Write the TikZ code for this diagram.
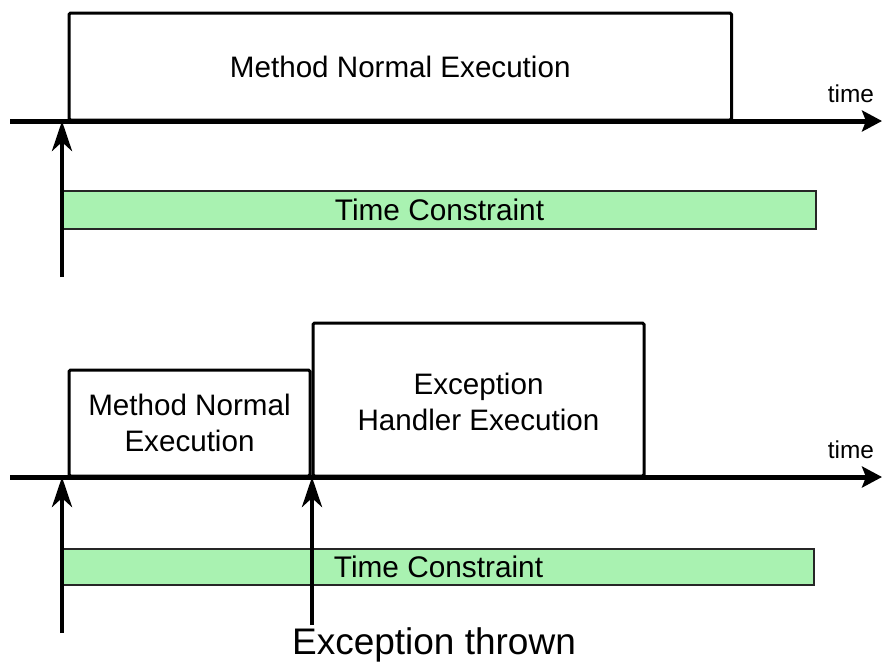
\documentclass[tikz,border=0pt]{standalone}
\usepackage{fontspec}
\setmainfont{Liberation Sans}
\usetikzlibrary{arrows.meta}
\definecolor{limitgreen}{RGB}{169,242,177}
\tikzset{
  phase/.style={draw=black, line width=3pt, fill=white, rounded corners=1.5pt,
    inner sep=0pt, outer sep=0pt, anchor=south west, align=center,
    font=\fontsize{29.6}{36}\selectfont},
  limitbar/.style={draw=black!85, line width=2.6pt, fill=limitgreen,
    inner sep=0pt, outer sep=0pt, anchor=north west,
    font=\fontsize{29.8}{36}\selectfont},
  axis/.style={line width=5pt, -{Stealth[length=20pt, width=21pt, inset=4pt]}},
  event/.style={line width=4.5pt, -{Stealth[length=30pt, width=20pt, inset=9pt]}},
  axislabel/.style={anchor=base, font=\fontsize{24.4}{28}\selectfont},
}
\begin{document}
\begin{tikzpicture}[x=1pt, y=-1pt]
\useasboundingbox (0,0) rectangle (884,664);

% ---- normal run ----
\node[limitbar, minimum width=753pt, minimum height=38pt] (tc1) at (63,191) {Time Constraint};
\node[phase, minimum width=662.5pt, minimum height=107pt] (run1) at (69,120) {Method Normal Execution};

\coordinate (ax1s) at (10,121);
\coordinate (ax1e) at (882,121);
\draw[axis] (ax1s) -- (ax1e);
\node[axislabel] (t1) at (851,102) {time};

\coordinate (st1) at (62,277);
\coordinate (st1tip) at (62,121);
\draw[event] (st1) -- (st1tip);

% ---- run with an exception ----
\node[limitbar, minimum width=751pt, minimum height=36pt] (tc2) at (63,549) {Time Constraint};
\node[phase, minimum width=241pt, minimum height=106pt] (run2) at (69,476) {Method Normal\\Execution};
\node[phase, minimum width=331pt, minimum height=153pt] (handler) at (313,476) {\rule{0pt}{27pt}Exception\\Handler Execution};

\coordinate (ax2s) at (10,477);
\coordinate (ax2e) at (882,477);
\draw[axis] (ax2s) -- (ax2e);
\node[axislabel] (t2) at (851,458) {time};

\coordinate (st2) at (62,633);
\coordinate (st2tip) at (62,477);
\draw[event] (st2) -- (st2tip);

\coordinate (ex) at (312,625);
\coordinate (extip) at (312,477);
\draw[event] (ex) -- (extip);
\node[font=\fontsize{37}{42}\selectfont] (exlabel) at (434,645) {Exception thrown};
\end{tikzpicture}
\end{document}
